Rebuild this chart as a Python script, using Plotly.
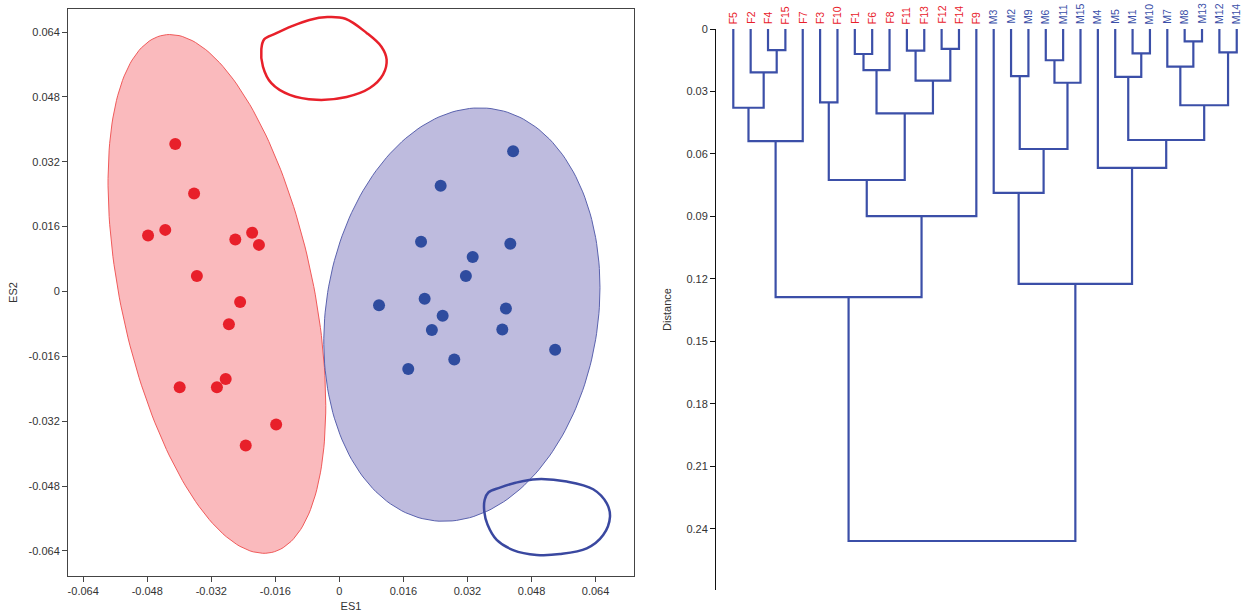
import numpy as np
import plotly.graph_objects as go

# ---------------- data: ordination scores ----------------
female_es1 = [-0.0410, -0.0363, -0.0478, -0.0435, -0.0260, -0.0218, -0.0201, -0.0356,
              -0.0248, -0.0276, -0.0284, -0.0399, -0.0306, -0.0158, -0.0234]
female_es2 = [0.0364, 0.0242, 0.0138, 0.0152, 0.0128, 0.0145, 0.0115, 0.0038,
              -0.0026, -0.0081, -0.0216, -0.0236, -0.0236, -0.0328, -0.0380]
male_es1 = [0.0434, 0.0253, 0.0204, 0.0427, 0.0333, 0.0316, 0.0099, 0.0213,
            0.0258, 0.0416, 0.0231, 0.0407, 0.0539, 0.0287, 0.0172]
male_es2 = [0.0346, 0.0261, 0.0123, 0.0118, 0.0085, 0.0038, -0.0034, -0.0018,
            -0.0060, -0.0042, -0.0095, -0.0094, -0.0144, -0.0168, -0.0191]

# confidence ellipses: centre, x-extent, y-extent, correlation
female_ellipse = dict(cx=-0.0306, cy=-0.0006, sx=0.0272, sy=0.0640, r=-0.431)
male_ellipse = dict(cx=0.0306, cy=-0.0057, sx=0.0345, sy=0.0510, r=0.13)

# extreme shape outlines (data units)
female_outline_x = [-0.0188, -0.0160, -0.0120, -0.0075, -0.0030, 0.0015, 0.0068, 0.0105,
                    0.0118, 0.0109, 0.0076, 0.0018, -0.0057, -0.0124, -0.0170, -0.0191,
                    -0.0195]
female_outline_y = [0.0622, 0.0636, 0.0654, 0.0670, 0.0677, 0.0673, 0.0638, 0.0604,
                    0.0572, 0.0535, 0.0502, 0.0480, 0.0473, 0.0485, 0.0514, 0.0555,
                    0.0598]
male_outline_x = [0.0372, 0.0401, 0.0440, 0.0493, 0.0568, 0.0634, 0.0668, 0.0676,
                  0.0659, 0.0618, 0.0551, 0.0493, 0.0434, 0.0393, 0.0370, 0.0362, 0.0363]
male_outline_y = [-0.0496, -0.0484, -0.0472, -0.0463, -0.0469, -0.0488, -0.0523, -0.0556,
                  -0.0601, -0.0634, -0.0648, -0.0650, -0.0638, -0.0613, -0.0575, -0.0543,
                  -0.0514]

scatter_ticks = [-0.064, -0.048, -0.032, -0.016, 0, 0.016, 0.032, 0.048, 0.064]
scatter_ticktext = ["-0.064", "-0.048", "-0.032", "-0.016", "0", "0.016", "0.032", "0.048", "0.064"]

# ---------------- data: dendrogram ----------------
leaf_order = ["F5", "F2", "F4", "F15", "F7", "F3", "F10", "F1", "F6", "F8", "F11", "F13",
              "F12", "F14", "F9", "M3", "M2", "M9", "M6", "M11", "M15", "M4", "M5", "M1",
              "M10", "M7", "M8", "M13", "M12", "M14"]
merges = [
    ("F4", "F15", 0.0101),   # 0
    ("F2", 0, 0.0208),       # 1
    ("F5", 1, 0.0378),       # 2
    (2, "F7", 0.0538),       # 3
    ("F3", "F10", 0.0352),   # 4
    ("F1", "F6", 0.0120),    # 5
    (5, "F8", 0.0197),       # 6
    ("F11", "F13", 0.0104),  # 7
    ("F12", "F14", 0.0095),  # 8
    (7, 8, 0.0248),          # 9
    (6, 9, 0.0405),          # 10
    (4, 10, 0.0725),         # 11
    (11, "F9", 0.0898),      # 12
    (3, 12, 0.1287),         # 13
    ("M2", "M9", 0.0226),    # 14
    ("M6", "M11", 0.0150),   # 15
    (15, "M15", 0.0258),     # 16
    (14, 16, 0.0576),        # 17
    ("M3", 17, 0.0787),      # 18
    ("M1", "M10", 0.0117),   # 19
    ("M5", 19, 0.0230),      # 20
    ("M8", "M13", 0.0059),   # 21
    ("M7", 21, 0.0181),      # 22
    ("M12", "M14", 0.0112),  # 23
    (22, 23, 0.0366),        # 24
    (20, 24, 0.0533),        # 25
    ("M4", 25, 0.0667),      # 26
    (18, 26, 0.1224),        # 27
    (13, 27, 0.2458),        # 28
]
dist_ticks = [0, 0.03, 0.06, 0.09, 0.12, 0.15, 0.18, 0.21, 0.24]
dist_ticktext = ["0", "0.03", "0.06", "0.09", "0.12", "0.15", "0.18", "0.21", "0.24"]

# ---------------- styles ----------------
RED = "#E8202A"
BLUE = "#2F4C9F"
DBLUE = "#3B4FA8"
FONT = "Liberation Sans, Arial, sans-serif"
W, H = 1247, 615

fig = go.Figure()


def ellipse(p, n=200):
    t = np.linspace(0, 2 * np.pi, n)
    x = p["cx"] + p["sx"] * np.cos(t)
    y = p["cy"] + p["sy"] * (p["r"] * np.cos(t) + np.sqrt(1 - p["r"] ** 2) * np.sin(t))
    return x, y


ex, ey = ellipse(female_ellipse)
fig.add_trace(go.Scatter(x=ex, y=ey, mode="lines", fill="toself",
                         fillcolor="rgba(237,28,36,0.30)",
                         line=dict(color="#F05A5A", width=1), xaxis="x", yaxis="y",
                         hoverinfo="skip", showlegend=False))
ex, ey = ellipse(male_ellipse)
fig.add_trace(go.Scatter(x=ex, y=ey, mode="lines", fill="toself",
                         fillcolor="rgba(70,60,160,0.35)",
                         line=dict(color="#5A62AE", width=1), xaxis="x", yaxis="y",
                         hoverinfo="skip", showlegend=False))

fig.add_trace(go.Scatter(x=female_es1, y=female_es2, mode="markers",
                         marker=dict(color=RED, size=12), xaxis="x", yaxis="y",
                         name="Female", showlegend=False))
fig.add_trace(go.Scatter(x=male_es1, y=male_es2, mode="markers",
                         marker=dict(color=BLUE, size=12), xaxis="x", yaxis="y",
                         name="Male", showlegend=False))

fig.add_trace(go.Scatter(x=female_outline_x + female_outline_x[:1],
                         y=female_outline_y + female_outline_y[:1],
                         mode="lines", line=dict(color=RED, width=2.5, shape="spline"),
                         xaxis="x", yaxis="y", hoverinfo="skip", showlegend=False))
fig.add_trace(go.Scatter(x=male_outline_x + male_outline_x[:1],
                         y=male_outline_y + male_outline_y[:1],
                         mode="lines", line=dict(color="#3A48A0", width=2.5, shape="spline"),
                         xaxis="x", yaxis="y", hoverinfo="skip", showlegend=False))

# ---------------- dendrogram ----------------
pos = {lab: float(i) for i, lab in enumerate(leaf_order)}
node_x, node_h = {}, {}


def get(item):
    if isinstance(item, str):
        return pos[item], 0.0
    return node_x[item], node_h[item]


dx, dy = [], []
for k, (a, b, h) in enumerate(merges):
    xa, ha = get(a)
    xb, hb = get(b)
    dx += [xa, xa, xb, xb, None]
    dy += [ha, h, h, hb, None]
    node_x[k] = (xa + xb) / 2
    node_h[k] = h

fig.add_trace(go.Scatter(x=dx, y=dy, mode="lines", line=dict(color=DBLUE, width=2.2),
                         xaxis="x2", yaxis="y2", hoverinfo="skip", showlegend=False))

for lab in leaf_order:
    fig.add_annotation(x=pos[lab], y=0, xref="x2", yref="y2", text=lab, textangle=-90,
                       showarrow=False, yanchor="bottom", xanchor="center", yshift=3,
                       font=dict(family=FONT, size=10.5, color=RED if lab.startswith("F") else DBLUE))

# ---------------- layout ----------------
# scatter frame in pixels
sx0, sx1, sy0, sy1 = 68, 634, 9, 576
# dendrogram frame in pixels
dx0, dy0, dy1 = 716, 29, 590
first_leaf_px, spacing_px = 733.3, 17.36

axis_font = dict(family=FONT, size=11, color="#333333")
fig.update_layout(
    width=W, height=H, margin=dict(l=0, r=0, t=0, b=0, autoexpand=False),
    paper_bgcolor="white", plot_bgcolor="white",
    font=dict(family=FONT, size=11, color="#333333"),
    xaxis=dict(domain=[sx0 / W, sx1 / W], range=[-0.0678, 0.0736], automargin=False,
               tickvals=scatter_ticks, ticktext=scatter_ticktext,
               showgrid=False, zeroline=False, showline=True, mirror=True,
               linecolor="#444444", linewidth=1, ticks="outside", ticklen=5,
               tickcolor="#444444", tickfont=axis_font,
               title=dict(text="ES1", font=axis_font, standoff=6)),
    yaxis=dict(domain=[1 - sy1 / H, 1 - sy0 / H], range=[-0.0702, 0.0697], automargin=False,
               tickvals=scatter_ticks, ticktext=scatter_ticktext,
               showgrid=False, zeroline=False, showline=True, mirror=True,
               linecolor="#444444", linewidth=1, ticks="outside", ticklen=5,
               tickcolor="#444444", tickfont=axis_font,
               title=dict(text="ES2", font=axis_font, standoff=8)),
    xaxis2=dict(domain=[dx0 / W, 1], anchor="y2", automargin=False,
                range=[-(first_leaf_px - dx0) / spacing_px,
                       (W - first_leaf_px) / spacing_px],
                showgrid=False, zeroline=False, showline=False, showticklabels=False,
                ticks=""),
    yaxis2=dict(domain=[1 - dy1 / H, 1 - dy0 / H], anchor="x2", automargin=False,
                range=[(dy1 - dy0) / 2083.0, 0],
                tickvals=dist_ticks, ticktext=dist_ticktext,
                showgrid=False, zeroline=False, showline=True, linecolor="#111111",
                linewidth=1, ticks="outside", ticklen=5, tickcolor="#111111",
                tickfont=axis_font,
                title=dict(text="Distance", font=axis_font, standoff=12)),
)

fig.write_html("out.html")
